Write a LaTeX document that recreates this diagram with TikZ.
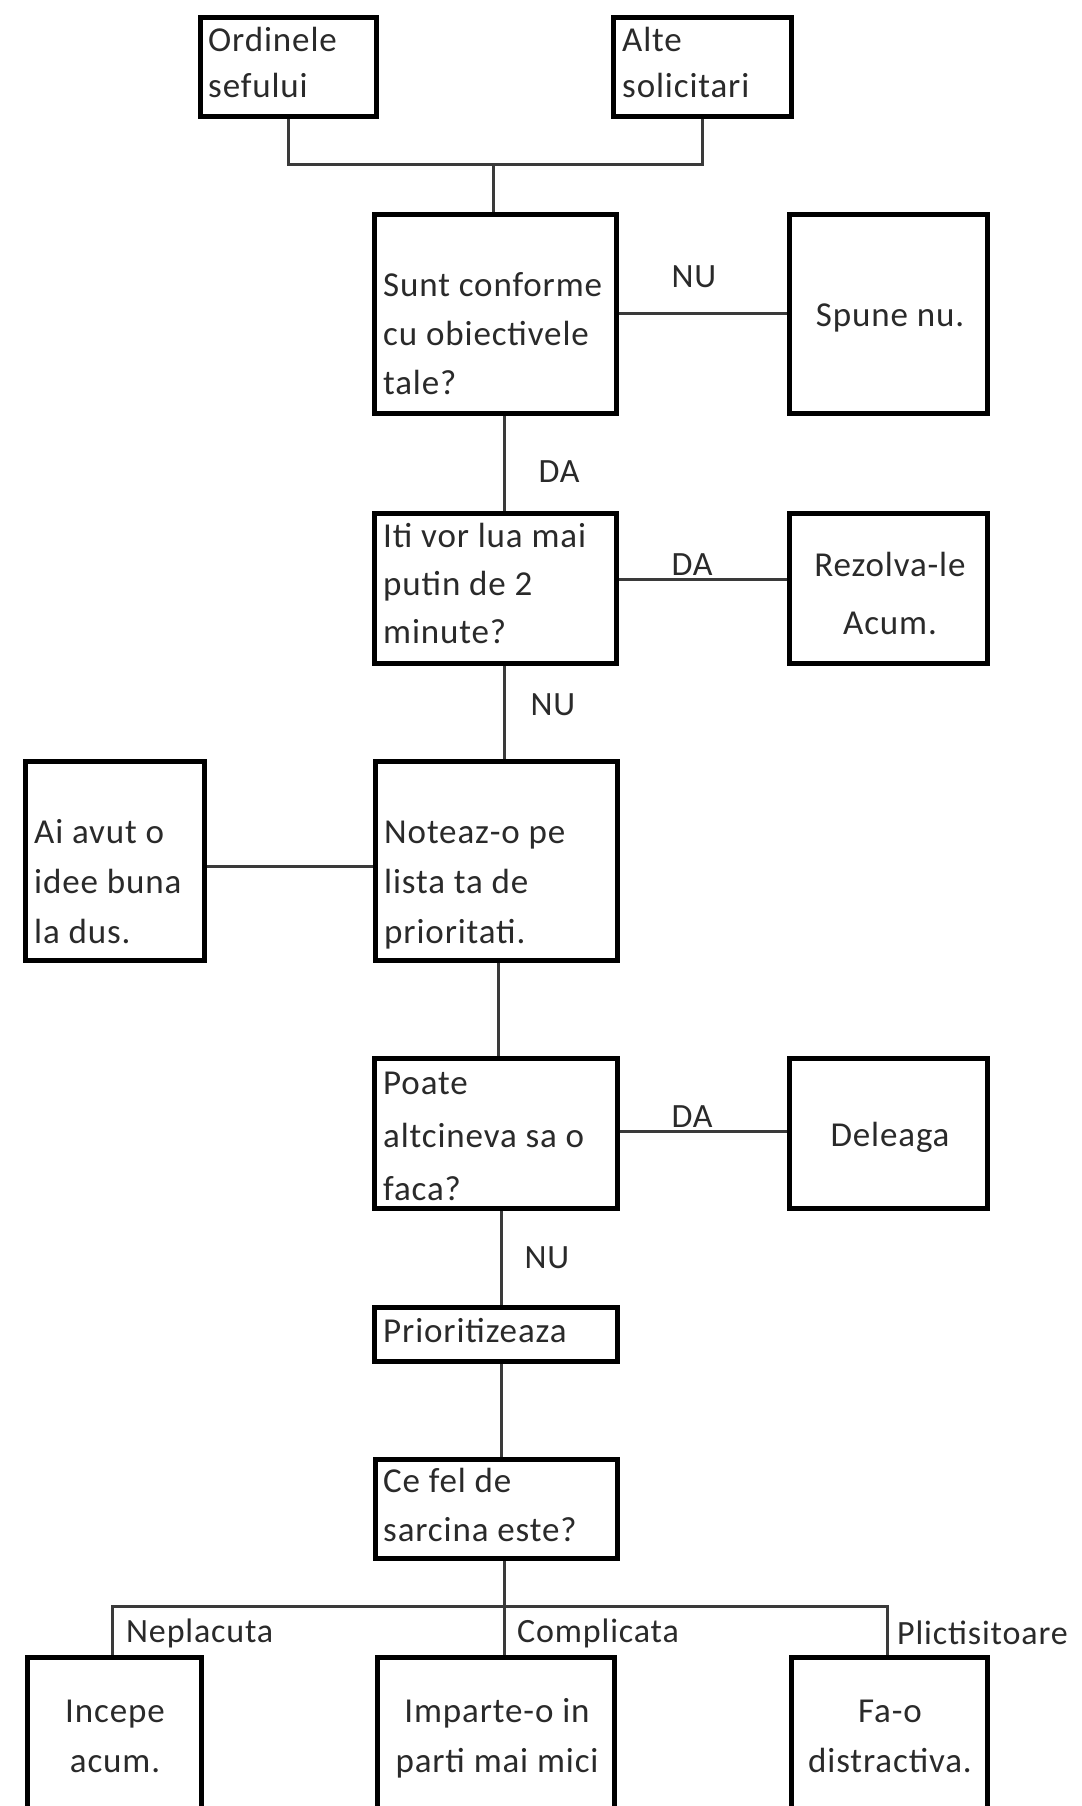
\documentclass[tikz,border=0pt]{standalone}
\usepackage{fontspec}
\setmainfont{Carlito}[LetterSpace=2.5]
\definecolor{ink}{HTML}{2A2A2A}
\definecolor{wire}{HTML}{3A3A3A}
\tikzset{
  box/.style={draw=black, line width=5pt, fill=white, inner sep=0pt},
  wirel/.style={draw=wire, line width=3pt},
  txt/.style={inner sep=0pt, text=ink, align=left, anchor=west},
  ctxt/.style={inner sep=0pt, text=ink, align=center, anchor=center},
  lbl/.style={inner sep=0pt, text=ink, font=\fontsize{34}{40}\selectfont},
}
\newcommand{\fs}[1]{\fontsize{35}{#1}\selectfont}
\begin{document}
\begin{tikzpicture}[x=1pt,y=-1pt]
\useasboundingbox (0,0) rectangle (1081,1806);
\clip (0,0) rectangle (1081,1806);
\fill[white] (0,0) rectangle (1081,1806);

% boxes
\node[box, minimum width=176pt, minimum height=99pt] (ord) at (288,67.5) {};
\node[box, minimum width=178pt, minimum height=99pt] (alte) at (702,67.5) {};
\node[box, minimum width=242pt, minimum height=199pt] (sunt) at (495,313.5) {};
\node[box, minimum width=198pt, minimum height=199pt] (spune) at (888,313.5) {};
\node[box, minimum width=242pt, minimum height=150pt] (iti) at (495,588) {};
\node[box, minimum width=198pt, minimum height=150pt] (rez) at (888,588) {};
\node[box, minimum width=242pt, minimum height=199pt] (note) at (496,860.5) {};
\node[box, minimum width=179pt, minimum height=199pt] (ai) at (114.5,860.5) {};
\node[box, minimum width=243pt, minimum height=150pt] (poate) at (495.5,1133) {};
\node[box, minimum width=198pt, minimum height=150pt] (del) at (888,1133) {};
\node[box, minimum width=243pt, minimum height=54pt] (prio) at (495.5,1334) {};
\node[box, minimum width=242pt, minimum height=99pt] (cefel) at (496,1508.5) {};
\node[box, minimum width=174pt, minimum height=176pt] (inc) at (114,1745) {};
\node[box, minimum width=237pt, minimum height=176pt] (imp) at (495.5,1745) {};
\node[box, minimum width=196pt, minimum height=176pt] (fao) at (889,1745) {};

% connectors
\coordinate (j1) at (493,165);
\coordinate (j2) at (504,1606);
\draw[wirel] (ord.south) |- (j1) -| (alte.south);
\draw[wirel] (j1) -- (j1 |- sunt.north);
\draw[wirel] (sunt.east) -- (spune.west);
\draw[wirel] ([xshift=9pt]sunt.south) -- ([xshift=9pt]iti.north);
\draw[wirel] ([yshift=9pt]iti.east) -- ([yshift=9pt]rez.west);
\draw[wirel] ([xshift=9pt]iti.south) -- ([xshift=8pt]note.north);
\draw[wirel] ([yshift=-5.5pt]ai.east) -- ([yshift=-5.5pt]note.west);
\draw[wirel] ([xshift=2pt]note.south) -- ([xshift=2.5pt]poate.north);
\draw[wirel] ([yshift=2pt]poate.east) -- ([yshift=2pt]del.west);
\draw[wirel] ([xshift=5.5pt]poate.south) -- ([xshift=5.5pt]prio.north);
\draw[wirel] ([xshift=5.5pt]prio.south) -- ([xshift=5pt]cefel.north);
\draw[wirel] ([xshift=8pt]cefel.south) -- (j2);
\draw[wirel] ([xshift=-2pt]inc.north) |- (j2) -| ([xshift=-2pt]fao.north);
\draw[wirel] (j2) -- (j2 |- imp.north);

% box texts
\node[txt, font=\fs{46}] (tord) at (208,65) {\strut Ordinele\\\strut sefului};
\node[txt, font=\fs{46}] (talte) at (622,65) {\strut Alte\\\strut solicitari};
\node[txt, font=\fs{49}] (tsunt) at (383,336) {\strut Sunt conforme\\\strut cu obiectivele\\\strut tale?};
\node[ctxt, font=\fs{49}] (tspune) at (890,317) {\strut Spune nu.};
\node[txt, font=\fs{48}] (titi) at (383,586) {\strut Iti vor lua mai\\\strut putin de 2\\\strut minute?};
\node[ctxt, font=\fs{58}] (trez) at (890,594) {\strut Rezolva-le\\\strut Acum.};
\node[txt, font=\fs{50}] (tnote) at (384,883) {\strut Noteaz-o pe\\\strut lista ta de\\\strut prioritati.};
\node[txt, font=\fs{50}] (tai) at (34,883) {\strut Ai avut o\\\strut idee buna\\\strut la dus.};
\node[txt, font=\fs{53}] (tpoate) at (383,1137) {\strut Poate\\\strut altcineva sa o\\\strut faca?};
\node[ctxt, font=\fs{49}] (tdel) at (890,1137) {\strut Deleaga};
\node[txt, font=\fs{49}] (tprio) at (383,1333) {\strut Prioritizeaza};
\node[txt, font=\fs{49}] (tcefel) at (383,1507) {\strut Ce fel de\\\strut sarcina este?};
\node[ctxt, font=\fs{50}] (tinc) at (115,1737) {\strut Incepe\\\strut acum.};
\node[ctxt, font=\fs{50}] (timp) at (497,1737) {\strut Imparte-o in\\\strut parti mai mici};
\node[ctxt, font=\fs{50}] (tfao) at (890,1737) {\strut Fa-o\\\strut distractiva.};

% labels
\node[lbl] (l1) at (694,277) {NU};
\node[lbl] (l2) at (559,472) {DA};
\node[lbl] (l3) at (692,565) {DA};
\node[lbl] (l4) at (553,705) {NU};
\node[lbl] (l5) at (692,1117) {DA};
\node[lbl] (l6) at (547,1258) {NU};
\node[lbl, anchor=west] (l7) at (126,1633) {Neplacuta};
\node[lbl, anchor=west] (l8) at (517,1633) {Complicata};
\node[lbl, anchor=west] (l9) at (897,1633) {Plictisitoare};
\end{tikzpicture}
\end{document}
